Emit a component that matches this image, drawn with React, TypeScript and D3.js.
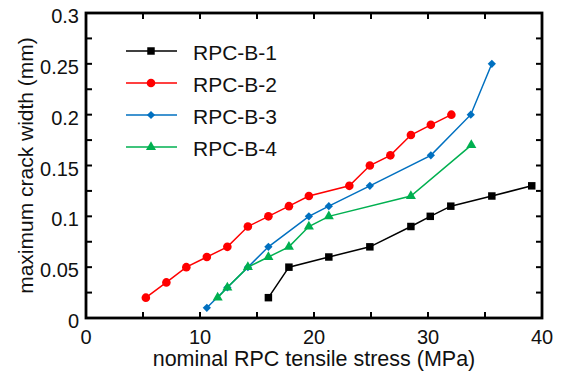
import React from "react";
import * as d3 from "d3";

const seriesNames = ["RPC-B-1", "RPC-B-2", "RPC-B-3", "RPC-B-4"];
const seriesColors = ["#000000", "#ff0000", "#0070c0", "#00b050"];

const b1X = [16, 17.8, 21.3, 24.9, 28.5, 30.2, 32.0, 35.6, 39.1];
const b1Y = [0.02, 0.05, 0.06, 0.07, 0.09, 0.10, 0.11, 0.12, 0.13];
const b2X = [5.25, 7.05, 8.8, 10.6, 12.4, 14.2, 16.0, 17.8, 19.55, 23.1, 24.9, 26.7, 28.5, 30.25, 32.05];
const b2Y = [0.02, 0.035, 0.05, 0.06, 0.07, 0.09, 0.10, 0.11, 0.12, 0.13, 0.15, 0.16, 0.18, 0.19, 0.20];
const b3X = [10.6, 12.4, 14.2, 16.0, 19.55, 21.3, 24.9, 30.25, 33.75, 35.6];
const b3Y = [0.01, 0.03, 0.05, 0.07, 0.10, 0.11, 0.13, 0.16, 0.20, 0.25];
const b4X = [11.55, 12.4, 14.2, 16.0, 17.8, 19.55, 21.3, 28.5, 33.8];
const b4Y = [0.02, 0.03, 0.05, 0.06, 0.07, 0.09, 0.10, 0.12, 0.17];

const xTickLabels = [0, 10, 20, 30, 40];
const yTickLabels = [0, 0.05, 0.1, 0.15, 0.2, 0.25, 0.3];
const xMinorTicks = [0, 5, 10, 15, 20, 25, 30, 35, 40];
const yMinorTicks = [0, 0.025, 0.05, 0.075, 0.1, 0.125, 0.15, 0.175, 0.2, 0.225, 0.25, 0.275, 0.3];

const xTitle = "nominal RPC tensile stress (MPa)";
const yTitle = "maximum crack width (mm)";

const W = 564, H = 372;
const L = 86, R = 542, T = 13, B = 318;
const FONT = "'Liberation Sans', Arial, sans-serif";

const symbols = [d3.symbolSquare, d3.symbolCircle, d3.symbolSquare, d3.symbolTriangle];
const symbolSizes = [56, 58, 34, 44];
const symbolRot = [0, 0, 45, 0];

export default function App() {
  const x = d3.scaleLinear().domain([0, 40]).range([L, R]);
  const y = d3.scaleLinear().domain([0, 0.3]).range([B, T]);
  const series = [
    { xs: b1X, ys: b1Y },
    { xs: b2X, ys: b2Y },
    { xs: b3X, ys: b3Y },
    { xs: b4X, ys: b4Y },
  ];
  const line = d3.line<[number, number]>().x((d) => x(d[0])).y((d) => y(d[1]));
  const tickLen = 6;
  const legendY = [51, 83, 115, 147];

  return (
    <svg width={W} height={H} style={{ position: "absolute", left: 0, top: 0, background: "#fff" }} fontFamily={FONT}>
      <rect x={0} y={0} width={W} height={H} fill="#fff" />
      {series.map((s, i) => {
        const pts: [number, number][] = s.xs.map((v, j) => [v, s.ys[j]]);
        const sym = d3.symbol().type(symbols[i]).size(symbolSizes[i])();
        return (
          <g key={i}>
            <path d={line(pts) || ""} fill="none" stroke={seriesColors[i]} strokeWidth={1.5} />
            {pts.map((p, j) => (
              <path key={j} d={sym || ""} transform={`translate(${x(p[0])},${y(p[1])}) rotate(${symbolRot[i]})`} fill={seriesColors[i]} />
            ))}
          </g>
        );
      })}
      {xMinorTicks.map((t, i) => (
        <g key={"xt" + i} stroke="#000" strokeWidth={2}>
          <line x1={x(t)} x2={x(t)} y1={B} y2={B - tickLen} />
          <line x1={x(t)} x2={x(t)} y1={T} y2={T + tickLen} />
        </g>
      ))}
      {yMinorTicks.map((t, i) => (
        <g key={"yt" + i} stroke="#000" strokeWidth={2}>
          <line x1={L} x2={L + tickLen} y1={y(t)} y2={y(t)} />
          <line x1={R} x2={R - tickLen} y1={y(t)} y2={y(t)} />
        </g>
      ))}
      <rect x={L} y={T} width={R - L} height={B - T} fill="none" stroke="#000" strokeWidth={2.8} />
      {xTickLabels.map((t, i) => (
        <text key={"xl" + i} x={x(t)} y={337} textAnchor="middle" dominantBaseline="central" fontSize={20} fill="#111">
          {t}
        </text>
      ))}
      {yTickLabels.map((t, i) => (
        <text key={"yl" + i} x={79} y={y(t) + 3} textAnchor="end" dominantBaseline="central" fontSize={20} fill="#111">
          {t}
        </text>
      ))}
      <text x={(L + R) / 2} y={366} textAnchor="middle" fontSize={21.5} fill="#111">
        {xTitle}
      </text>
      <text transform={`translate(33,${(T + B) / 2}) rotate(-90)`} textAnchor="middle" fontSize={21} fill="#111">
        {yTitle}
      </text>
      {seriesNames.map((n, i) => {
        const sym = d3.symbol().type(symbols[i]).size(symbolSizes[i])();
        return (
          <g key={"lg" + i}>
            <line x1={126} x2={177} y1={legendY[i]} y2={legendY[i]} stroke={seriesColors[i]} strokeWidth={1.5} />
            <path d={sym || ""} transform={`translate(151,${legendY[i]}) rotate(${symbolRot[i]})`} fill={seriesColors[i]} />
            <text x={193} y={legendY[i] + 1} dominantBaseline="central" fontSize={21} fill="#111">
              {n}
            </text>
          </g>
        );
      })}
    </svg>
  );
}
